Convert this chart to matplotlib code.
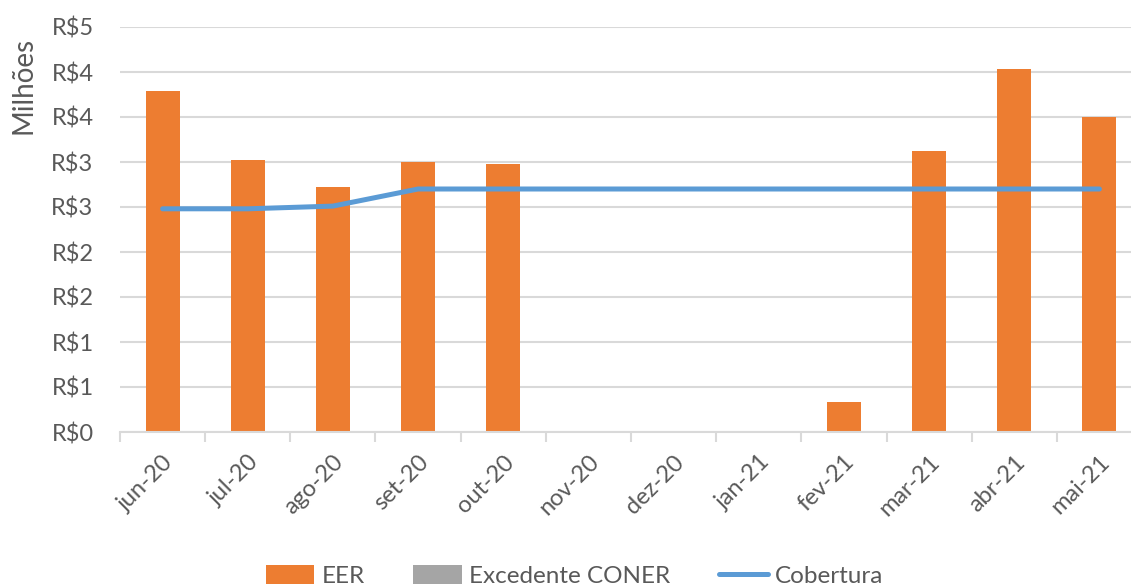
import matplotlib.pyplot as plt
import numpy as np

months = ["jun-20", "jul-20", "ago-20", "set-20", "out-20", "nov-20", "dez-20",
          "jan-21", "fev-21", "mar-21", "abr-21", "mai-21"]
eer = [3.79, 3.02, 2.72, 3.00, 2.98, 0, 0, 0, 0.33, 3.12, 4.03, 3.50]
excedente = [0] * 12
cobertura = [2.48, 2.48, 2.51, 2.70, 2.70, 2.70, 2.70, 2.70, 2.70, 2.70, 2.70, 2.70]
yticks = [0, 0.5, 1, 1.5, 2, 2.5, 3, 3.5, 4, 4.5]

plt.rcParams['font.family'] = ['Lato', 'DejaVu Sans']
txt = '#595959'

fig = plt.figure(figsize=(11.31, 5.88), dpi=100)
ax = fig.add_axes([120/1131, 1-432/588, 1022/1131, 405/588])
x = np.arange(len(months))
b1 = ax.bar(x, eer, width=0.4, color='#ED7D31', label='EER', zorder=2)
b2 = ax.bar(x, excedente, width=0.4, bottom=eer, color='#A5A5A5', label='Excedente CONER', zorder=2)
l1, = ax.plot(x, cobertura, color='#5B9BD5', lw=3.6, solid_capstyle='round', label='Cobertura', zorder=3)

ax.set_xlim(-0.5, len(months) - 0.5)
ax.set_ylim(0, 4.5)
ax.set_yticks(yticks)
ax.set_yticklabels([f"R${int(v + 0.5)}" for v in yticks], fontsize=17, color=txt)
ax.set_xticks(x)
ax.set_xticklabels(months, rotation=45, ha='right', rotation_mode='anchor', fontsize=17, color=txt)
ax.set_xticks(np.arange(-0.5, len(months)), minor=True)
ax.tick_params(axis='x', which='major', length=0, pad=14)
ax.tick_params(axis='x', which='minor', length=7, color='#D9D9D9', width=1.5)
ax.tick_params(axis='y', length=0, pad=19)
ax.grid(axis='y', color='#D9D9D9', lw=1.5, zorder=0)
for s in ['top', 'right', 'left']:
    ax.spines[s].set_visible(False)
ax.spines['bottom'].set_color('#D9D9D9')
ax.spines['bottom'].set_linewidth(1.5)

fig.text(23/1131, 1-85/588, "Milhões", rotation=90, ha='center', va='center', fontsize=20, color=txt)

fig.legend([b1, b2, l1], ['EER', 'Excedente CONER', 'Cobertura'], loc='center',
           bbox_to_anchor=(0.508, 1-576/588), ncol=3, frameon=False,
           fontsize=17.5, labelcolor=txt, handlelength=2.0, handleheight=0.8,
           columnspacing=2.0, handletextpad=0.3)

fig.savefig("out.png", dpi=100)
